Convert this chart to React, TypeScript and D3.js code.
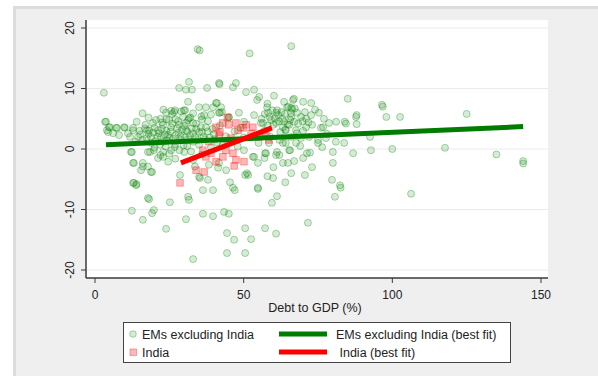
import React, { useEffect } from "react";
import * as d3 from "d3";

const xTicks = [0, 50, 100, 150];
const yTicks = [-20, -10, 0, 10, 20];
const xTitle = "Debt to GDP (%)";
const legendLabels = ["EMs excluding India", "India", "EMs excluding India (best fit)", " India (best fit)"];

// EMs excluding India: [debt to GDP, y value]
const emPoints: [number, number][] = [
  [34.5,16.5],[35.2,16.3],[52,15.8],[66,17],[3,9.3],
  [28.3,10.1],[31.6,11.1],[30.6,9.8],[32.6,9.8],[37.7,10.1],[41.7,10.9],[41.9,10.7],[46.4,10.2],[47.4,10.9],
  [31.3,7.8],[35,6.9],[37.3,6.9],[40.7,7.6],[42.4,6.9],[25.6,6.3],[26.9,6.4],[29.9,6.4],[42.7,6.1],
  [50.8,9.4],[53.5,9.8],[55.2,8.6],[60.2,8.8],[63.6,7.8],[66.9,8.3],[70,7.8],[72.7,7.6],[85,8.3],[96.5,7.3],[96.8,7.0],[66,6.8],[66.3,6.6],
  [98,5.3],[102.6,5.3],[125,5.8],[88,5.6],[88,4.1],[84,4.5],[100,0],[117.7,0.2],[135,-0.9],[144,-2],[144,-2.4],[92.5,2],[80,-2.3],[86.8,-0.7],[71.3,-0.7],[72.3,-0.6],[76.4,0.3],[80,-0.5],[70.6,-4.3],[79.7,-5.1],[82.4,-6],[82.6,-6.4],[80.7,-7.9],[106.3,-7.4],[71.6,-12.2],
  [12.8,-5.6],[13.8,-6],[17.8,-8.1],[18.2,-8.3],[25.2,-8.8],[31.3,-7.9],[31.6,-8.4],[36.3,-6.8],[39.7,-6.8],[47,-6.8],[54.8,-6.6],[61.2,-7.8],[59.5,-8.9],[12.4,-10.2],[16.1,-11.7],[19.2,-10.6],[19.8,-10.1],[23.9,-13.2],[30.6,-11.6],[36.3,-10.7],[39.7,-11.1],[43.4,-10.4],[45,-10.7],[44.4,-13.9],[46.8,-15],[50.5,-13.1],[52.5,-14.9],[57.2,-13.1],[60.9,-14],[44.4,-17.2],[50.5,-17.2],[33,-18.2],
  [3.7,4.5],[4.7,3.6],[7.1,3.5],[9.8,3.6],[11.1,2.6],[8.1,2.3],[6.1,2.6],[4.4,2.8],[14.5,2],[12.8,3.5],[19.5,4.3],[18.2,3.1],[21.2,3.1],[22.9,4],[20.5,4.8],[24.9,4.8],[25.6,3.6],[23.9,6],[26.6,6.1],[29.6,5.3],[30.6,4.3],[28.3,4],[30.6,3.1],[27.2,2.3],[24.6,2.3],[22.2,2],[18.8,2],[19.8,-0.2],[22.9,-0.5],[25.6,-0.2],[17.8,-0.5],[12.1,-0.5],[13.1,-2.3],[16.1,-2.3],[17.8,-2.9],[15.5,-3.5],[18.8,-3.8],[24.6,-2.1],[22.9,-1.3],[21.2,-1.5],[13.1,-5.6],[14,-5.8],
  [31.6,5.1],[33,4.3],[36.7,5.6],[37.3,3.6],[35,2.8],[33,2.6],[41.7,6],[45,5.3],[48.4,6],[53.5,5.6],[58.2,6],[61.6,5.6],[63.6,4.5],[60.9,4.3],[55.8,4.3],[50.1,4.5],[64.2,3.1],[58.5,1],[63.2,1],[57.5,-0.7],[53.5,-1.3],[50.1,-0.2],[54.8,-2.3],[63.2,-2.3],[60.9,-1],[44.1,-3.5],[51.5,-4.3],[38.3,-2.6],[41.7,-2.3],[35,-4.6],[38,-5.1],[59.9,-4.8],[54.8,-6.4],[46.4,-6.4],
  [66,5.3],[69.3,5.3],[72.7,5.6],[75.3,6],[78.7,4.3],[81.1,4.5],[84.4,4.2],[87.8,5.3],[76.7,3.6],[71,3.6],[67.6,3.1],[65.3,4],[64.2,1],[67.6,1],[65.3,-0.2],[83.8,1],[64.9,-2.3],[92.8,-0.2],[75,1.5],[81,1.2],[77.7,1.8],[69.3,1.8],
  [30.3,6.4],[31.3,4.8],[41,7.6],[42,6],[39.7,6.9],[17.5,3.1],[12.8,3.1],[10,3.5],[7.4,3.5],[5,3.6],[3.4,4.5],[4,3.1],[11.8,2],[12.8,-2.3],[16.1,-2.9],[19.2,-3.8],[12.4,-0.5],[18.5,-0.5],[54.5,8.1],[57.9,6.9],[61.2,6.4],[64.6,6.9],[66.6,8.1],[56.5,4.3],[63.2,3.6],[65.6,4.8],[53.1,-1.3],[57.2,-0.7],[61.2,-0.5],[65.6,-0.2],[51.1,-4],[45.4,-5.5],[50.5,-4.3],[35.3,-4.8],[28.6,-4.3],[33.6,-2.9],[41.4,-3.1],
  [14,4.5],[15,3],[16,1.5],[17,4],[18,2.5],[19,1],[20,3.5],[21,2],[22,5],[23,1.2],[24,3],[25,1.8],[26,4.2],[27,0.8],[28,2.7],[29,1.5],[30,3.8],[31,0.5],[32,2.2],[33,1.2],[34,3.3],[35,0.7],[36,2.8],[37,1.6],[38,4.6],[39,0.3],[40,2.4],[41,1.1],[42,3.9],[43,0.6],[44,2.1],[45,5.2],[46,1.3],[47,2.9],[48,0.4],[49,3.5],[50,1.9],
  [20,0.2],[22,-1],[25,-0.8],[27,-1.6],[30,-0.5],[33,-1.8],[36,-0.9],[26,5.8],[29,6.2],[33,5.9],[36,4.9],[39,5.7],[18,5.2],[16,5.9],[23,6.5],[31,2.9],[34,4.2],[28,4.6],[24,4.9],
  [56,5],[57,3],[58,7.5],[59,2],[60,4],[61,6],[62,1.5],[63,5],[64,3.2],[65,7],[66,2],[67,4.5],[68,6],[69,0.5],[70,3],[71,5],[72,2],[73,4],[74,6.5],[75,1],[76,3.5],[77,5],[78,2.5],[55,1],[57,-1.5],[60,-3],[62,-1],[67,-2],[70,-1.5],[73,-3],[66,-4],[58,-4.5],[64,-5.5],
  [21.5,2.6],[22.4,3.3],[23.5,2.4],[24.2,1.4],[25.4,2.9],[26.3,1.7],[27.6,3.4],[28.8,2.1],[29.3,3.2],[30.2,1.9],[31.4,1.6],[32.5,3.4],[33.7,2.0],[34.6,1.5],[35.6,3.6],[36.5,2.0],[37.9,2.9],[38.6,1.9],[39.5,3.3],[40.3,1.6],[19.6,2.7],[20.3,1.3],[21.8,0.7],[23.8,0.4],[26.8,0.3],[28.4,-0.2],[29.8,0.6],[32.3,-0.4],[15.2,2.4],[16.8,3.4],[17.4,1.8],[13.6,1.2],[22.6,4.4],[27.1,4.9],[32.1,5.2],[35.8,5.4],
  [58.7,5.3],[59.6,6.4],[60.5,5.1],[61.9,4.6],[62.7,6.1],[63.9,5.8],[64.8,4.1],[65.9,5.9],[67.2,6.7],[68.3,4.2],[57.1,5.8],[58.1,3.9],[59.2,4.8],[62.3,2.8],[67.9,2.6],[70.6,6.1],[71.8,4.4],[69.8,4.6]
];

// India
const indiaPoints: [number, number][] = [
  [28.6,-5.6],[34,-3.5],[36.7,-3.8],[50.1,-2.1],[47.4,-1.8],[46.4,-0.7],[44,-0.2],[45,1.2],[41.7,2.3],[40.7,3.6],[43,4.3],[45,4],[47.4,4.3],[49.8,3.5],[52.5,2.6],[55.2,2],[57.5,2.3],[58.5,1.5],[37.3,-1.3],[39,-0.7],[40.7,-2.1],[43,-1.3],[45.7,1.8],[48.1,3.1],[50.8,4],[53.1,3.6],[38.3,1.2],[36.3,-0.2],[44.5,5.2],[42,2.8],[46.8,-2.8]
];

const emFit: [number, number][] = [[3.7, 0.7], [144, 3.7]];
const indiaFit: [number, number][] = [[28.9, -2.3], [59.5, 3.5]];

const W = 598, H = 376;
const font = "Arial, 'Liberation Sans', sans-serif";

export default function App() {
  useEffect(() => { document.body.style.margin = "0"; }, []);
  const x = d3.scaleLinear().domain([0, 150]).range([95, 541]);
  const y = d3.scaleLinear().domain([-20, 20]).range([270, 28]);
  const line = d3.line<[number, number]>().x(d => x(d[0])).y(d => y(d[1]));
  const plot = { l: 86, t: 20, r: 548, b: 278 };
  const axisCol = "#3a3a3a";
  return (
    <svg width={W} height={H} style={{ position: "absolute", left: 0, top: 0, display: "block" }} fontFamily={font}>
      <rect x={0} y={0} width={W} height={H} fill="#ffffff" />
      <rect x={13} y={6} width={W - 13} height={H - 6} fill="#dcdcdc" />
      <rect x={16} y={9} width={W - 16} height={H - 9} fill="#efefef" />
      <rect x={plot.l} y={plot.t} width={plot.r - plot.l} height={plot.b - plot.t} fill="#ffffff" />
      {yTicks.map(t => (
        <line key={"g" + t} x1={plot.l} x2={plot.r} y1={y(t)} y2={y(t)} stroke="#ebebeb" strokeWidth={1} />
      ))}
      {emPoints.map((p, i) => (
        <circle key={"e" + i} cx={x(p[0])} cy={y(p[1])} r={3.5} fill="#008000" fillOpacity={0.16} stroke="#008000" strokeOpacity={0.32} strokeWidth={1} />
      ))}
      {indiaPoints.map((p, i) => (
        <rect key={"n" + i} x={x(p[0]) - 3.3} y={y(p[1]) - 3.3} width={6.6} height={6.6} fill="#ff0000" fillOpacity={0.28} stroke="#ff0000" strokeOpacity={0.32} strokeWidth={1} />
      ))}
      <path d={line(emFit) || ""} stroke="#007d00" strokeWidth={5} fill="none" />
      <path d={line(indiaFit) || ""} stroke="#ff0000" strokeWidth={5} fill="none" />
      <line x1={plot.l} x2={plot.l} y1={plot.t} y2={plot.b} stroke={axisCol} strokeWidth={1.5} />
      <line x1={plot.l} x2={plot.r} y1={plot.b} y2={plot.b} stroke={axisCol} strokeWidth={1.5} />
      {yTicks.map(t => (
        <g key={"y" + t}>
          <line x1={plot.l - 5} x2={plot.l} y1={y(t)} y2={y(t)} stroke={axisCol} strokeWidth={1} />
          <text transform={`translate(${plot.l - 12},${y(t)}) rotate(-90)`} textAnchor="middle" fontSize={12} fill="#222">{t}</text>
        </g>
      ))}
      {xTicks.map(t => (
        <g key={"x" + t}>
          <line x1={x(t)} x2={x(t)} y1={plot.b} y2={plot.b + 5} stroke={axisCol} strokeWidth={1} />
          <text x={x(t)} y={plot.b + 21} textAnchor="middle" fontSize={12} fill="#222">{t}</text>
        </g>
      ))}
      <text x={315} y={312} textAnchor="middle" fontSize={12.5} fill="#222">{xTitle}</text>
      <rect x={123.5} y={322.5} width={387} height={40} fill="#ffffff" stroke="#444" strokeWidth={1} />
      <circle cx={133} cy={334} r={3.3} fill="#008000" fillOpacity={0.16} stroke="#008000" strokeOpacity={0.32} />
      <text x={142} y={338.5} fontSize={12.5} fill="#222">{legendLabels[0]}</text>
      <rect x={130} y={349} width={6.6} height={6.6} fill="#ff0000" fillOpacity={0.28} stroke="#ff0000" strokeOpacity={0.32} />
      <text x={142} y={356.5} fontSize={12.5} fill="#222">{legendLabels[1]}</text>
      <line x1={279} x2={327} y1={334} y2={334} stroke="#007d00" strokeWidth={5} />
      <text x={336} y={338.5} fontSize={12.5} fill="#222">{legendLabels[2]}</text>
      <line x1={279} x2={327} y1={352} y2={352} stroke="#ff0000" strokeWidth={5} />
      <text x={336} y={356.5} fontSize={12.5} fill="#222" style={{ whiteSpace: "pre" }}>{legendLabels[3]}</text>
    </svg>
  );
}
